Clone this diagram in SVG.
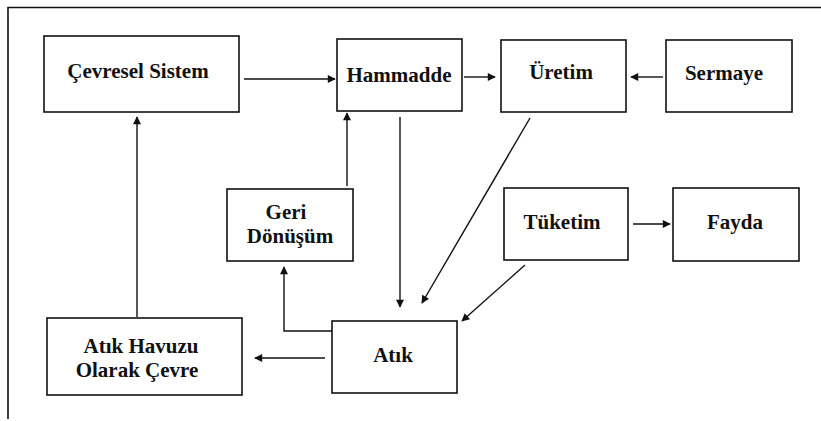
<svg xmlns="http://www.w3.org/2000/svg" width="821" height="421" viewBox="0 0 821 421">
<defs>
<marker id="ah" viewBox="0 0 10 10" refX="9" refY="5" markerWidth="10" markerHeight="8" markerUnits="userSpaceOnUse" orient="auto">
<path d="M0,0 L10,5 L0,10 Z" fill="#111"/>
</marker>
<style>
.box{fill:#fff;stroke:#111;stroke-width:1.6}
.lbl{font-weight:bold;font-size:21px;fill:#111;text-anchor:middle}
.con{fill:none;stroke:#111;stroke-width:1.4;marker-end:url(#ah)}
.frame{fill:none;stroke:#111;stroke-width:1.6}
</style>
</defs>
<rect width="821" height="421" fill="#fff"/>
<path class="frame" d="M8,419 L8,7.5 L821,7.5"/>
<g id="connectors">
<path class="con" d="M244,79 L335,79"/>
<path class="con" d="M464,77 L495,77"/>
<path class="con" d="M663,77 L631,77"/>
<path class="con" d="M530,118 L422,303"/>
<path class="con" d="M347,186 L347,113"/>
<path class="con" d="M400,117 L400,307"/>
<path class="con" d="M633,224 L670,224"/>
<path class="con" d="M525,265 L462,321"/>
<path class="con" d="M325,358 L255,358"/>
<path class="con" d="M332,331 L284,331 L284,267"/>
<path class="con" d="M137,317 L137,117"/>
</g>
<g id="cevresel-sistem">
<rect class="box" x="44" y="36" width="195" height="76"/>
<text class="lbl" font-family="Liberation Serif" x="138" y="78">Çevresel Sistem</text>
</g>
<g id="hammadde">
<rect class="box" x="337" y="39" width="125" height="72"/>
<text class="lbl" font-family="Liberation Serif" x="399" y="82">Hammadde</text>
</g>
<g id="uretim">
<rect class="box" x="501" y="40" width="125" height="72"/>
<text class="lbl" font-family="Liberation Serif" x="561" y="79">Üretim</text>
</g>
<g id="sermaye">
<rect class="box" x="666" y="40" width="126" height="72"/>
<text class="lbl" font-family="Liberation Serif" x="724" y="80">Sermaye</text>
</g>
<g id="geri-donusum">
<rect class="box" x="227" y="189" width="126" height="72"/>
<text class="lbl" font-family="Liberation Serif" x="286" y="219">Geri</text>
<text class="lbl" font-family="Liberation Serif" x="290" y="243">Dönüşüm</text>
</g>
<g id="tuketim">
<rect class="box" x="504" y="188" width="124" height="72"/>
<text class="lbl" font-family="Liberation Serif" x="562" y="229">Tüketim</text>
</g>
<g id="fayda">
<rect class="box" x="673" y="188" width="126" height="73"/>
<text class="lbl" font-family="Liberation Serif" x="735" y="229">Fayda</text>
</g>
<g id="atik">
<rect class="box" x="332" y="321" width="125" height="72"/>
<text class="lbl" font-family="Liberation Serif" x="393" y="362">Atık</text>
</g>
<g id="atik-havuzu">
<rect class="box" x="47" y="318" width="195" height="77"/>
<text class="lbl" font-family="Liberation Serif" x="141" y="353">Atık Havuzu</text>
<text class="lbl" font-family="Liberation Serif" x="137" y="377">Olarak Çevre</text>
</g>
</svg>
